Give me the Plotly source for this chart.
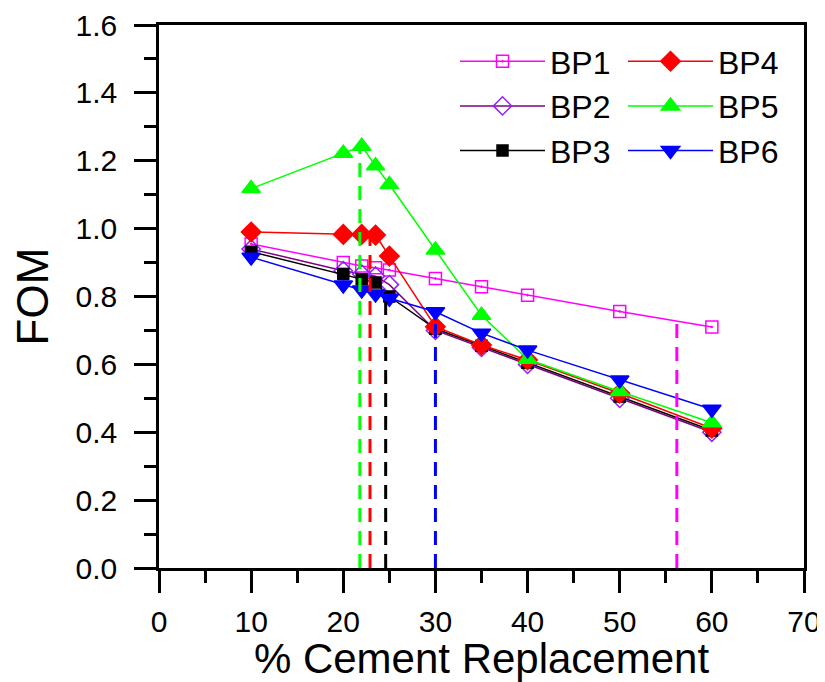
import plotly.graph_objects as go

replacement = [10, 20, 22, 23.5, 25, 30, 35, 40, 50, 60]
series_names = ["BP1", "BP2", "BP3", "BP4", "BP5", "BP6"]
bp1 = [0.955, 0.900, 0.890, 0.885, 0.878, 0.853, 0.829, 0.804, 0.756, 0.710]
bp2 = [0.940, 0.876, 0.866, 0.860, 0.835, 0.700, 0.650, 0.600, 0.500, 0.400]
bp3 = [0.932, 0.866, 0.851, 0.841, 0.800, 0.705, 0.655, 0.605, 0.505, 0.405]
bp4 = [0.990, 0.983, 0.983, 0.981, 0.919, 0.711, 0.657, 0.613, 0.515, 0.412]
bp5 = [1.118, 1.222, 1.243, 1.185, 1.130, 0.937, 0.745, 0.615, 0.520, 0.428]
bp6 = [0.916, 0.834, 0.819, 0.807, 0.795, 0.755, 0.692, 0.642, 0.554, 0.468]
optimum_x = [56.2, 24.6, 22.9, 21.8, 30.0]
optimum_y = [0.72, 0.80, 0.97, 1.245, 0.755]
x_ticks = [0, 10, 20, 30, 40, 50, 60, 70]
y_ticks = [0.0, 0.2, 0.4, 0.6, 0.8, 1.0, 1.2, 1.4, 1.6]

values = [bp1, bp2, bp3, bp4, bp5, bp6]
line_colors = ["#FF00FF", "#800080", "#000000", "#FF0000", "#00FF00", "#0000FF"]
marker_colors = ["#FF00FF", "#9020FF", "#000000", "#FF0000", "#00FF00", "#0000FF"]
symbols = ["square-open-dot", "diamond-open", "square", "diamond", "triangle-up", "triangle-down"]
sizes = [12, 14, 11, 15, 16, 16]
legends = ["legend", "legend", "legend", "legend2", "legend2", "legend2"]
dash_colors = ["#FF00FF", "#000000", "#FF0000", "#00FF00", "#0000FF"]

FONT = "Liberation Sans, Arial, sans-serif"
W, H = 817, 674  # page body adds an 8px offset in the 825x682 window

fig = go.Figure()
for name, ys, lc, mc, sym, sz, lg in zip(series_names, values, line_colors,
                                         marker_colors, symbols, sizes, legends):
    fig.add_trace(go.Scatter(
        x=replacement, y=ys, name=name, mode="lines+markers",
        line=dict(color=lc, width=1.5),
        marker=dict(symbol=sym, size=sz, color=mc, line=dict(color=mc, width=1.5)),
        legend=lg,
    ))

for ox, oy, dc in zip(optimum_x, optimum_y, dash_colors):
    fig.add_trace(go.Scatter(
        x=[ox, ox], y=[0, oy], mode="lines", showlegend=False,
        line=dict(color=dc, width=3, dash="14px,9px"), hoverinfo="skip",
    ))

axis_common = dict(
    showgrid=False, zeroline=False, showline=True, linecolor="black",
    linewidth=2.5, mirror=True, ticks="outside", ticklen=22, tickwidth=2.5,
    tickcolor="black", tickfont=dict(family=FONT, size=30, color="black"),
    automargin=False,
)
fig.update_xaxes(
    range=[0, 70], tickvals=x_ticks, ticktext=[str(v) for v in x_ticks],
    minor=dict(dtick=5, ticklen=12, tickwidth=2.5, tickcolor="black", ticks="outside"),
    title=dict(text="% Cement Replacement", font=dict(family=FONT, size=42, color="black"),
               standoff=15),
    ticklabelstandoff=3,
    **axis_common,
)
fig.update_yaxes(
    range=[0, 1.6], tickvals=y_ticks, ticktext=[f"{v:.1f}" for v in y_ticks],
    minor=dict(dtick=0.1, ticklen=12, tickwidth=2.5, tickcolor="black", ticks="outside"),
    title=dict(text="FOM", font=dict(family=FONT, size=44, color="black"), standoff=23),
    ticklabelstandoff=11,
    **axis_common,
)
leg_common = dict(
    orientation="v", xanchor="left", yanchor="top", xref="container", yref="container",
    font=dict(family=FONT, size=32, color="black"), itemwidth=85,
    bgcolor="rgba(0,0,0,0)", traceorder="normal", tracegroupgap=0,
)
fig.update_layout(
    width=W, height=H,
    margin=dict(l=151, r=21, t=17, b=114, autoexpand=False),
    plot_bgcolor="white", paper_bgcolor="white",
    font=dict(family=FONT, color="black"),
    legend=dict(x=447 / W, y=1 - 26 / H, **leg_common),
    legend2=dict(x=615 / W, y=1 - 26 / H, **leg_common),
)
fig.write_html("out.html")
